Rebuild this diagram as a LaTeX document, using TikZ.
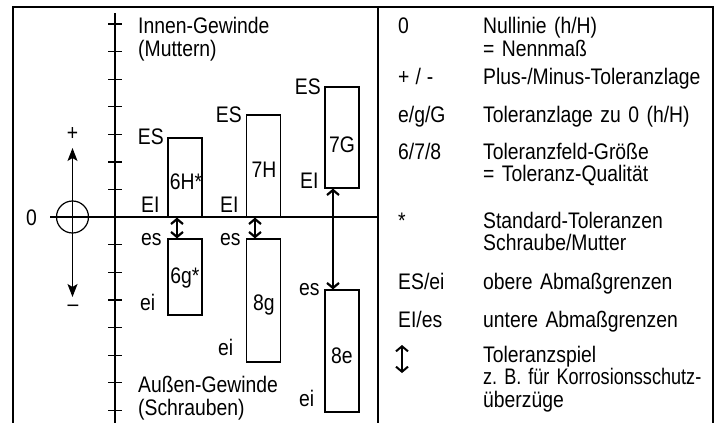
\documentclass[tikz,border=0pt]{standalone}
\usepackage{fontspec}
\usepackage{graphicx}
\setmainfont{Liberation Sans}[FakeStretch=0.86,WordSpace=0.75]
\frenchspacing
\usetikzlibrary{arrows.meta}
\begin{document}
\begin{tikzpicture}[x=1pt,y=-1pt,
  txt/.style={inner sep=0pt, font=\fontsize{22.5}{22.5}\selectfont},
  lbl/.style={txt, anchor=base west},
  rlbl/.style={txt, anchor=base east},
  boxlbl/.style={txt, anchor=base},
  multi/.style={txt, anchor=base west, text width=#1, align=left},
  tolbox/.style={draw, line width=1.2pt, inner sep=0pt, minimum width=34pt},
  frameline/.style={line width=2.5pt},
  divline/.style={line width=1.5pt},
  plainline/.style={line width=1.2pt},
  spiel/.style={line width=2.2pt, {Straight Barb[length=5pt,width=12pt]}-{Straight Barb[length=5pt,width=12pt]}},
  pm/.style={line width=1.2pt, -{Stealth[length=13pt,width=10pt,inset=3pt]}},
]
\useasboundingbox (0,0) rectangle (721,423);

% frame
\coordinate (fbl) at (13,423);
\coordinate (ftl) at (13,7);
\coordinate (ftr) at (713,7);
\coordinate (fbr) at (713,423);
\coordinate (dtop) at (378,7);
\coordinate (dbot) at (378,423);
\draw[frameline] (fbl) -- (ftl) -- (ftr) -- (fbr);
\draw[divline] (dtop) -- (dbot);

% zero line and axis
\coordinate (zl) at (50,217);
\draw[plainline] (zl) -- (zl -| dtop);
\coordinate (atop) at (115,13);
\coordinate (abot) at (115,423);
\draw[plainline] (atop) -- (abot);
\foreach \k in {0,...,6,8,9,...,14}
  \draw[plainline] (108,24+27.6*\k) -- (122,24+27.6*\k);

% null circle with +/- arrows
\node[draw, circle, minimum size=32pt, inner sep=0pt, plainline] (null) at (72.5,217) {};
\coordinate (ptop) at (72.5,148);
\coordinate (pbot) at (72.5,297);
\draw[pm] (null.center) -- (ptop);
\draw[pm] (null.center) -- (pbot);
\node[txt] (plus) at (72.5,134) {+};
\node[boxlbl] (minus) at (73,311) {–};
\node[lbl] (zero) at (26,225) {0};

% tolerance boxes
\node[tolbox, minimum height=79pt] (b6H) at (185,177.5) {};
\node[tolbox, minimum height=102pt] (b7H) at (263.5,166) {};
\node[tolbox, minimum height=101pt] (b7G) at (342,137.5) {};
\node[tolbox, minimum height=76pt] (b6g) at (185,277) {};
\node[tolbox, minimum height=123pt] (b8g) at (263.5,300.5) {};
\node[tolbox, minimum height=122pt] (b8e) at (342,351) {};

\node[boxlbl] (t6H) at (186,189) {6H*};
\node[boxlbl] (t7H) at (264,177) {7H};
\node[boxlbl] (t7G) at (342,152) {7G};
\node[boxlbl] (t6g) at (185,283) {6g*};
\node[boxlbl] (t8g) at (264,310) {8g};
\node[boxlbl] (t8e) at (342,363) {8e};

% limit labels
\node[rlbl] (es1) at (164,144) {ES};
\node[lbl] (ei1) at (141,212) {EI};
\node[lbl] (es1u) at (141,245) {es};
\node[lbl] (ei1u) at (140,310) {ei};
\node[rlbl] (es2) at (242,122) {ES};
\node[lbl] (ei2) at (220,212) {EI};
\node[lbl] (es2u) at (220,245) {es};
\node[lbl] (ei2u) at (218,355) {ei};
\node[rlbl] (es3) at (321,94) {ES};
\node[lbl] (ei3) at (300,188) {EI};
\node[lbl] (es3u) at (299,295) {es};
\node[lbl] (ei3u) at (299,406) {ei};

% clearance arrows
\draw[spiel] ([xshift=-8pt]b6H.south) -- ([xshift=-8pt]b6g.north);
\draw[spiel] ([xshift=-8.5pt]b7H.south) -- ([xshift=-8.5pt]b8g.north);
\draw[spiel] ([xshift=-9pt]b7G.south) -- ([xshift=-9pt]b8e.north);

% region titles
\node[multi=200pt, font=\fontsize{22.5}{24}\selectfont] (innen) at (138,33) {Innen-Gewinde\\(Muttern)};
\node[multi=200pt, font=\fontsize{22.5}{23}\selectfont] (aussen) at (138,392) {Außen-Gewinde\\(Schrauben)};

% legend
\node[lbl] (k1) at (398,34) {0};
\node[lbl] (k2) at (398,84) {+\hspace{6pt}/\hspace{6pt}-};
\node[lbl] (k3) at (398,122) {e/g/G};
\node[lbl] (k4) at (398,159) {6/7/8};
\node[lbl] (k5) at (398,228) {*};
\node[lbl] (k6) at (398,289) {ES/ei};
\node[lbl] (k7) at (398,327) {EI/es};
\coordinate (k8a) at (402,345);
\coordinate (k8b) at (402,373);
\draw[spiel, line width=2pt] (k8a) -- (k8b);

\node[multi=270pt] (d1) at (483,34) {Nullinie (h/H)\\= Nennmaß};
\node[multi=270pt] (d2) at (483,84) {Plus-/Minus-Toleranzlage};
\node[multi=270pt] (d3) at (483,122) {Toleranzlage zu 0 (h/H)};
\node[multi=270pt] (d4) at (483,159) {Toleranzfeld-Größe\\= Toleranz-Qualität};
\node[multi=270pt] (d5) at (483,228) {Standard-Toleranzen\\Schraube/Mutter};
\node[multi=270pt] (d6) at (483,289) {obere Abmaßgrenzen};
\node[multi=270pt] (d7) at (483,327) {untere Abmaßgrenzen};
\node[multi=270pt] (d8) at (483,362) {Toleranzspiel\\\scalebox{0.935}[1]{z. B. für Korrosionsschutz-}\\überzüge};
\end{tikzpicture}
\end{document}
